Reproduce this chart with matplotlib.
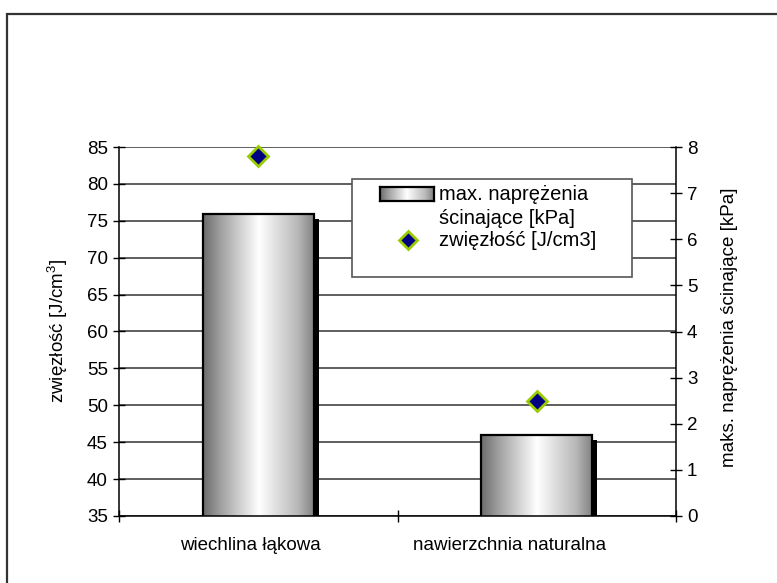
import numpy as np
import matplotlib
matplotlib.use("Agg")
import matplotlib.pyplot as plt
from matplotlib.patches import Rectangle
from matplotlib.lines import Line2D
from matplotlib import patheffects
from matplotlib.transforms import ScaledTranslation

# ---- data ----
categories = ["wiechlina łąkowa", "nawierzchnia naturalna"]
bar_values = [75.9, 46.0]        # bars, read on the left scale
point_values = [7.8, 2.5]        # diamonds, read on the right scale
left_ticks = [35, 40, 45, 50, 55, 60, 65, 70, 75, 80, 85]
right_ticks = [0, 1, 2, 3, 4, 5, 6, 7, 8]
bar_label = "max. naprężenia\nścinające [kPa]"
point_label = "zwięzłość [J/cm3]"
left_title = "zwięzłość [J/cm$^3$]"
right_title = "maks. naprężenia ścinające [kPa]"

plt.rcParams["font.family"] = ["Liberation Sans", "DejaVu Sans"]
plt.rcParams["mathtext.fontset"] = "custom"
plt.rcParams["mathtext.rm"] = "Liberation Sans"
plt.rcParams["mathtext.it"] = "Liberation Sans"

W, H = 777, 583
FS = 13.5
LFS = 14.5
Y0, Y1 = 35, 85


def fx(p):
    return p / W


def fy(p):
    return 1 - p / H


fig = plt.figure(figsize=(W / 100, H / 100), dpi=100)
fig.patch.set_facecolor("white")

# outer chart frame (runs off the right and bottom of the canvas)
fig.add_artist(Rectangle((fx(7), -0.2), 1.5, fy(14) + 0.2, transform=fig.transFigure,
                         fill=False, ec="#333333", lw=1.6, clip_on=False, zorder=0))

ax = fig.add_axes([fx(119), fy(516), (676 - 119) / W, (516 - 147) / H])
x = np.arange(len(categories))
width = 0.40

# horizontal gray gradient used to fill the bars
t = np.linspace(0, 1, 256)
g = np.interp(t, [0, 0.15, 0.5, 0.85, 1], [0.42, 0.62, 1.0, 0.72, 0.50])
grad = np.stack([g, g, g], axis=-1)[None, :, :]

shadow = [patheffects.SimplePatchShadow(offset=(3.6, -3.6), shadow_rgbFace="black", alpha=1.0),
          patheffects.Normal()]
bars = ax.bar(x, bar_values, width=width, color="white", edgecolor="none",
              zorder=2, path_effects=shadow)
for b in bars:
    im = ax.imshow(grad, extent=[b.get_x(), b.get_x() + b.get_width(), Y0, b.get_height()],
                   aspect="auto", interpolation="bilinear", zorder=2.5)
    im.set_clip_path(b)
ax.bar(x, bar_values, width=width, fill=False, edgecolor="black", lw=1.6, zorder=3)

ax.set_xlim(-0.5, len(categories) - 0.5)
ax.set_ylim(Y0, Y1)
ax.set_yticks(left_ticks)
ax.yaxis.grid(True, color="#333333", lw=1.1)
ax.set_axisbelow(True)
ax.tick_params(axis="y", direction="inout", length=8, width=1, labelsize=FS, pad=4)

ax.set_xticks(x)
ax.set_xticklabels(categories, fontsize=FS)
ax.set_xticks([-0.5, 0.5, 1.5], minor=True)
ax.tick_params(axis="x", which="major", length=0, pad=15)
ax.tick_params(axis="x", which="minor", direction="inout", length=9, width=1)
for lab, dx in zip(ax.get_xticklabels(), [-8, -27]):
    lab.set_transform(lab.get_transform() + ScaledTranslation(dx / 100, 0, fig.dpi_scale_trans))

for s in ["top", "right"]:
    ax.spines[s].set_visible(False)
for s in ["left", "bottom"]:
    ax.spines[s].set_linewidth(1.1)

ax2 = ax.twinx()
ax2.plot(x, point_values, ls="none", marker="D", ms=10, mfc="#000080", mec="#99cc00",
         mew=2, zorder=5, clip_on=False)
ax2.set_ylim(0, 8)
ax2.set_yticks(right_ticks)
ax2.tick_params(axis="y", direction="inout", length=8, width=1, labelsize=FS, pad=4)
for s in ["top", "left", "bottom"]:
    ax2.spines[s].set_visible(False)
ax2.spines["right"].set_linewidth(1.1)

# axis titles
fig.text(fx(58), fy(331), left_title, rotation=90, ha="center", va="center", fontsize=FS)
fig.text(fx(729), fy(327), right_title, rotation=90, ha="center", va="center", fontsize=FS)

# legend box
fig.add_artist(Rectangle((fx(352), fy(277)), (632 - 352) / W, (277 - 179) / H,
                         transform=fig.transFigure, fc="white", ec="#555555", lw=1.2, zorder=10))
sw = fig.add_axes([fx(380), fy(201), 54 / W, 14 / H], zorder=11)
sw.imshow(grad, aspect="auto", interpolation="bilinear")
sw.set_xticks([])
sw.set_yticks([])
for s in sw.spines.values():
    s.set_linewidth(1.6)
    s.set_color("black")
fig.add_artist(Line2D([fx(408)], [fy(240)], transform=fig.transFigure, marker="D", ms=9,
                      mfc="#000080", mec="#99cc00", mew=2, ls="none", zorder=11))
l1, l2 = bar_label.split("\n")
fig.text(fx(439), fy(194), l1, va="center", ha="left", fontsize=LFS, zorder=11)
fig.text(fx(439), fy(218), l2, va="center", ha="left", fontsize=LFS, zorder=11)
fig.text(fx(439), fy(240), point_label, va="center", ha="left", fontsize=LFS, zorder=11)

fig.savefig("out.png", dpi=100)
